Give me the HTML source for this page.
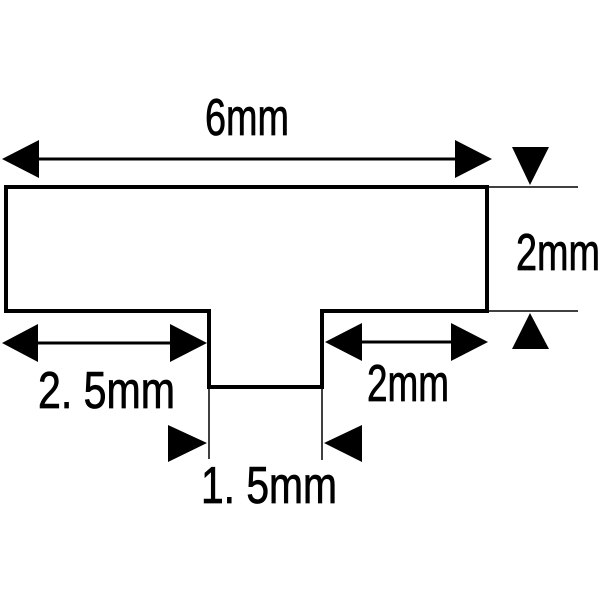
<!DOCTYPE html>
<html><head><style>html,body{margin:0;padding:0;background:#fff}</style></head>
<body>
<svg width="600" height="600" viewBox="0 0 600 600" xmlns="http://www.w3.org/2000/svg" font-family="Liberation Sans, sans-serif">
<rect width="600" height="600" fill="#fff"/>
<path d="M6 187 H487 V311 H322 V387 H209 V311 H6 Z" fill="none" stroke="#000" stroke-width="4"/>
<g stroke="#000" stroke-width="1.5">
<line x1="489" y1="187" x2="578" y2="187"/>
<line x1="489" y1="311" x2="578" y2="311"/>
<line x1="209" y1="389" x2="209" y2="459"/>
<line x1="322" y1="389" x2="322" y2="460"/>
</g>
<g stroke="#000" stroke-width="3">
<line x1="30" y1="159" x2="470" y2="159"/>
<line x1="30" y1="343" x2="180" y2="343"/>
<line x1="350" y1="342" x2="465" y2="342"/>
</g>
<g fill="#000">
<polygon points="2,159 39,140 39,178"/>
<polygon points="492,159 455,140 455,178"/>
<polygon points="512,147 549,147 530,185"/>
<polygon points="512,349 549,349 530,313"/>
<polygon points="2,343 38,324 38,362"/>
<polygon points="207,343 170,324 170,362"/>
<polygon points="325,342 362,323 362,361"/>
<polygon points="488,342 451,323 451,361"/>
<polygon points="207,443 168,425 168,462"/>
<polygon points="324,443 362,425 362,462"/>
</g>
<g fill="#000" stroke="#000" stroke-width="0.8" font-size="52">
<text x="205" y="135" textLength="84" lengthAdjust="spacingAndGlyphs">6mm</text>
<text x="516" y="270" textLength="84" lengthAdjust="spacingAndGlyphs">2mm</text>
<text x="38" y="408" textLength="137" lengthAdjust="spacingAndGlyphs">2. 5mm</text>
<text x="367" y="401" textLength="82" lengthAdjust="spacingAndGlyphs">2mm</text>
<text x="201" y="503" textLength="136" lengthAdjust="spacingAndGlyphs">1. 5mm</text>
</g>
</svg>
</body></html>
